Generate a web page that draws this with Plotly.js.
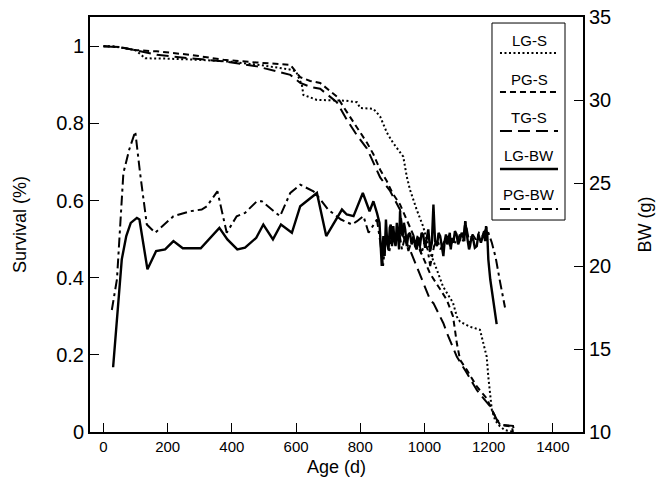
<!DOCTYPE html>
<html>
<head>
<meta charset="utf-8">
<script src="https://cdn.plot.ly/plotly-3.0.1.min.js"></script>
<style>html,body{margin:0;padding:0;background:#fff;}#chart{width:665px;height:483px;}</style>
</head>
<body>
<div id="chart"></div>
<script>
// Survival curves (left axis)
const lgS_age = [0, 30, 100, 130, 200, 300, 400, 500, 580, 600, 618, 623, 665, 753, 790, 800, 841, 862, 883, 902, 934, 945, 955, 976, 996, 1018, 1039, 1058, 1089, 1101, 1111, 1142, 1173, 1184, 1194, 1199, 1205, 1210, 1220, 1231, 1250, 1280];
const lgS_surv = [1.0, 1.0, 0.99, 0.969, 0.968, 0.965, 0.96, 0.95, 0.94, 0.935, 0.90, 0.874, 0.861, 0.859, 0.855, 0.840, 0.838, 0.818, 0.776, 0.750, 0.714, 0.662, 0.628, 0.576, 0.533, 0.464, 0.420, 0.377, 0.335, 0.299, 0.286, 0.273, 0.265, 0.230, 0.195, 0.143, 0.100, 0.057, 0.031, 0.018, 0.005, 0];

const pgS_age = [0, 50, 100, 166, 270, 374, 478, 582, 613, 644, 675, 706, 727, 758, 789, 821, 841, 862, 883, 900, 924, 955, 986, 1018, 1049, 1070, 1089, 1101, 1111, 1132, 1163, 1194, 1215, 1236, 1272, 1276];
const pgS_surv = [1.0, 0.998, 0.99, 0.987, 0.978, 0.965, 0.958, 0.952, 0.92, 0.91, 0.905, 0.885, 0.87, 0.83, 0.79, 0.75, 0.72, 0.68, 0.65, 0.62, 0.59, 0.53, 0.47, 0.41, 0.37, 0.342, 0.30, 0.23, 0.187, 0.161, 0.118, 0.087, 0.049, 0.018, 0.014, 0];

const tgS_age = [0, 50, 100, 166, 270, 374, 478, 582, 613, 644, 675, 706, 727, 758, 789, 821, 841, 862, 893, 924, 934, 955, 976, 996, 1018, 1028, 1049, 1059, 1070, 1101, 1132, 1163, 1184, 1205, 1226, 1245, 1276, 1280];
const tgS_surv = [1.0, 0.998, 0.99, 0.978, 0.969, 0.961, 0.948, 0.926, 0.905, 0.895, 0.89, 0.87, 0.855, 0.81, 0.77, 0.735, 0.70, 0.66, 0.625, 0.576, 0.507, 0.472, 0.429, 0.386, 0.342, 0.334, 0.299, 0.282, 0.257, 0.195, 0.153, 0.109, 0.087, 0.066, 0.031, 0.018, 0.016, 0];

// Body weight curves (right axis)
const lgBW_age = [30, 57, 71, 85, 104, 112, 137, 164, 192, 218, 247, 303, 361, 386, 417, 441, 476, 498, 528, 553, 587, 613, 665, 694, 743, 758, 779, 808, 829, 841, 852, 860, 867, 872, 876, 880, 884, 888, 892, 895, 899, 903, 907, 910, 914, 917, 921, 924, 928, 932, 936, 940, 945, 950, 955, 960, 966, 971, 976, 981, 986, 991, 996, 1002, 1007, 1012, 1018, 1023, 1028, 1033, 1039, 1044, 1049, 1054, 1059, 1063, 1067, 1071, 1075, 1079, 1082, 1086, 1090, 1095, 1100, 1105, 1111, 1116, 1120, 1124, 1127, 1131, 1135, 1139, 1142, 1147, 1152, 1157, 1163, 1168, 1172, 1176, 1179, 1183, 1186, 1189, 1192, 1196, 1199, 1205, 1215, 1225];
const lgBW_g = [13.9, 20.4, 21.8, 22.6, 22.9, 22.8, 19.8, 20.9, 21.0, 21.5, 21.07, 21.07, 22.3, 21.6, 21.0, 21.1, 21.7, 22.5, 21.6, 22.5, 22.0, 23.6, 24.4, 21.8, 23.4, 23.1, 23.0, 24.4, 23.3, 23.9, 23.2, 22.6, 20.0, 21.8, 20.6, 22.8, 21.4, 21.0, 22.3, 22.5, 21.2, 22.4, 21.5, 21.2, 22.6, 22.0, 21.0, 23.3, 22.1, 21.8, 22.6, 22.2, 21.2, 21.9, 22.0, 21.3, 21.8, 21.2, 21.0, 21.7, 21.2, 22.0, 21.9, 21.1, 21.6, 22.2, 20.9, 21.4, 23.7, 21.5, 21.2, 22.0, 21.8, 21.1, 20.6, 21.5, 21.9, 21.3, 21.6, 22.0, 21.0, 21.7, 21.4, 22.1, 21.9, 21.3, 21.6, 22.0, 21.8, 21.5, 22.7, 21.9, 21.5, 21.0, 21.2, 21.8, 21.6, 21.1, 21.2, 21.9, 21.7, 21.4, 21.6, 22.0, 22.1, 21.5, 22.4, 21.8, 20.4, 19.2, 17.8, 16.5];

const pgBW_age = [26, 42, 62, 80, 99, 114, 135, 161, 218, 270, 306, 322, 355, 384, 415, 441, 478, 493, 550, 582, 613, 654, 668, 700, 740, 774, 790, 810, 826, 840, 852, 862, 871, 880, 890, 900, 910, 920, 930, 940, 950, 960, 970, 980, 990, 1000, 1010, 1018, 1030, 1040, 1050, 1060, 1070, 1080, 1090, 1100, 1110, 1120, 1127, 1140, 1150, 1160, 1170, 1180, 1194, 1210, 1222, 1236, 1251];
const pgBW_g = [17.35, 19.2, 25.6, 27.0, 28.1, 25.6, 22.5, 22.0, 23.0, 23.3, 23.4, 23.6, 24.5, 22.0, 23.0, 23.2, 23.9, 23.9, 23.0, 24.4, 24.9, 24.5, 24.2, 23.4, 22.8, 22.5, 22.7, 23.0, 22.0, 22.4, 22.8, 21.5, 20.0, 21.8, 20.8, 22.0, 21.3, 22.2, 21.0, 21.8, 20.9, 21.5, 21.2, 21.9, 20.7, 21.4, 21.0, 20.0, 21.2, 21.6, 21.0, 21.4, 21.8, 21.2, 21.6, 21.3, 21.9, 21.5, 22.7, 21.4, 21.9, 21.6, 22.0, 21.8, 22.3, 21.4, 20.5, 19.0, 17.5];

// Legend labels
const legendLabels = ["LG-S", "PG-S", "TG-S", "LG-BW", "PG-BW"];

const styles = {
  "LG-S":  {dash: "2px,2.5px", width: 2},
  "PG-S":  {dash: "6px,4px", width: 2},
  "TG-S":  {dash: "12px,6px", width: 2},
  "LG-BW": {dash: "solid", width: 2.4},
  "PG-BW": {dash: "10px,4px,3px,4px", width: 2}
};

const traces = [
  {x: lgS_age, y: lgS_surv, name: "LG-S", yaxis: "y"},
  {x: pgS_age, y: pgS_surv, name: "PG-S", yaxis: "y"},
  {x: tgS_age, y: tgS_surv, name: "TG-S", yaxis: "y"},
  {x: pgBW_age, y: pgBW_g, name: "PG-BW", yaxis: "y2"},
  {x: lgBW_age, y: lgBW_g, name: "LG-BW", yaxis: "y2"}
].map(t => Object.assign(t, {
  type: "scatter", mode: "lines", showlegend: false,
  line: {color: "#000", width: styles[t.name].width, dash: styles[t.name].dash}
}));

// Custom legend (text above line sample), in paper coordinates
const L = {x0: 0.8154, x1: 0.9635, y0: 0.5108, y1: 0.9855, lx0: 0.8316, lx1: 0.9493, tx: 0.8905,
  ty: [0.9422, 0.8506, 0.7590, 0.6651, 0.5711], ly: [0.9133, 0.8193, 0.7253, 0.6337, 0.5373]};
const shapes = [{type: "rect", xref: "paper", yref: "paper", x0: L.x0, x1: L.x1, y0: L.y0, y1: L.y1,
  line: {color: "#000", width: 1}, fillcolor: "#fff", layer: "below"}];
const annotations = [];
legendLabels.forEach((lab, i) => {
  shapes.push({type: "line", xref: "paper", yref: "paper", x0: L.lx0, x1: L.lx1, y0: L.ly[i], y1: L.ly[i],
    line: {color: "#000", width: styles[lab].width, dash: styles[lab].dash}});
  annotations.push({xref: "paper", yref: "paper", x: L.tx, y: L.ty[i], text: lab, showarrow: false,
    xanchor: "center", yanchor: "middle", font: {family: "Liberation Sans, Arial, sans-serif", size: 15, color: "#000"}});
});

const layout = {
  width: 665, height: 483,
  margin: {l: 90, r: 82, t: 17, b: 51},
  paper_bgcolor: "#fff", plot_bgcolor: "rgba(0,0,0,0)",
  font: {family: "Liberation Sans, Arial, sans-serif", color: "#000"},
  showlegend: false,
  xaxis: {
    range: [-42, 1494], tickvals: [0, 200, 400, 600, 800, 1000, 1200, 1400],
    ticks: "inside", ticklen: 9, tickwidth: 1, tickcolor: "#000",
    showgrid: false, zeroline: false, showline: true, linecolor: "#000", linewidth: 2, mirror: true,
    tickfont: {size: 15}, title: {text: "Age (d)", font: {size: 18}, standoff: 6}, automargin: false
  },
  yaxis: {
    range: [0, 1.076], tickvals: [0, 0.2, 0.4, 0.6, 0.8, 1], ticktext: ["0", "0.2", "0.4", "0.6", "0.8", "1"],
    ticks: "inside", ticklen: 9, tickwidth: 1, tickcolor: "#000",
    showgrid: false, zeroline: false, showline: true, linecolor: "#000", linewidth: 2,
    tickfont: {size: 20}, title: {text: "Survival (%)", font: {size: 18}, standoff: 25}, automargin: false
  },
  yaxis2: {
    range: [10, 35], tickvals: [10, 15, 20, 25, 30, 35], overlaying: "y", side: "right",
    ticks: "inside", ticklen: 9, tickwidth: 1, tickcolor: "#000",
    showgrid: false, zeroline: false, showline: true, linecolor: "#000", linewidth: 2,
    tickfont: {size: 20}, title: {text: "BW (g)", font: {size: 18}, standoff: 28}, automargin: false
  },
  shapes: shapes,
  annotations: annotations
};

Plotly.newPlot("chart", traces, layout, {staticPlot: true, displayModeBar: false});
</script>
</body>
</html>
